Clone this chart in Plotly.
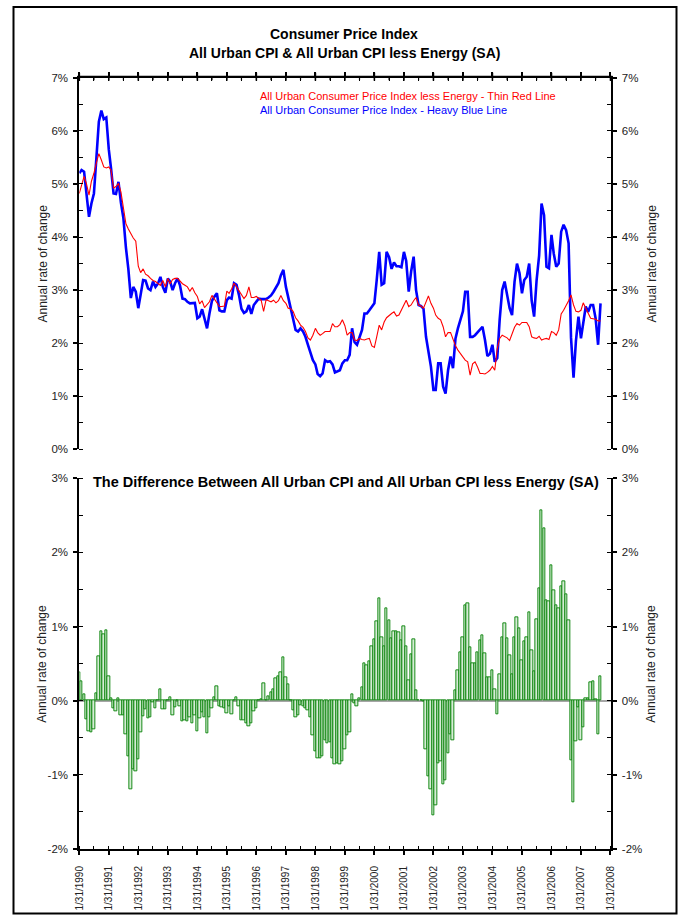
import calendar
import plotly.graph_objects as go

# ---------------- data (annual % change, monthly, Jan 1990 .. Sep 2007) ----------------
cpi_all = [
    5.20, 5.26, 5.23, 4.75, 4.38, 4.63, 4.82, 5.50, 6.17, 6.38, 6.22, 6.25,   # 1990
    5.65, 5.29, 4.82, 4.81, 5.04, 4.65, 4.35, 3.80, 3.40, 2.85, 3.06, 2.97,   # 1991
    2.66, 2.91, 3.19, 3.18, 3.03, 3.00, 3.16, 3.06, 3.12, 3.25, 3.06, 2.95,   # 1992
    3.22, 3.16, 3.00, 3.13, 3.22, 3.09, 2.84, 2.83, 2.78, 2.75, 2.75, 2.76,   # 1993
    2.47, 2.50, 2.64, 2.44, 2.28, 2.56, 2.80, 2.88, 2.94, 2.62, 2.60, 2.60,   # 1994
    2.81, 2.86, 2.84, 3.13, 3.10, 2.91, 2.65, 2.57, 2.60, 2.72, 2.55, 2.72,   # 1995
    2.78, 2.84, 2.83, 2.83, 2.83, 2.86, 2.90, 2.97, 3.06, 3.13, 3.28, 3.38,   # 1996
    3.06, 2.88, 2.66, 2.47, 2.25, 2.22, 2.28, 2.22, 2.12, 1.97, 1.84, 1.68,   # 1997
    1.60, 1.42, 1.38, 1.43, 1.68, 1.65, 1.66, 1.60, 1.45, 1.47, 1.49, 1.62,   # 1998
    1.68, 1.68, 1.78, 2.28, 2.02, 1.97, 2.12, 2.25, 2.56, 2.56, 2.62, 2.69,   # 1999
    2.75, 3.19, 3.72, 3.10, 3.13, 3.72, 3.62, 3.40, 3.52, 3.45, 3.45, 3.43,   # 2000
    3.72, 3.55, 2.97, 3.35, 3.63, 3.00, 2.72, 2.70, 2.65, 2.12, 1.87, 1.56,   # 2001
    1.12, 1.12, 1.62, 1.62, 1.18, 1.05, 1.49, 1.75, 1.53, 2.09, 2.28, 2.45,   # 2002
    2.60, 2.97, 2.97, 2.12, 2.12, 2.15, 2.20, 2.25, 2.31, 2.06, 1.76, 1.80,   # 2003
    1.97, 1.65, 1.72, 2.45, 3.00, 3.16, 2.94, 2.66, 2.53, 3.16, 3.50, 3.32,   # 2004
    2.94, 3.19, 3.25, 3.50, 2.80, 2.50, 3.19, 3.65, 4.63, 4.41, 3.44, 3.41,   # 2005
    4.04, 3.69, 3.44, 3.50, 4.10, 4.23, 4.13, 3.88, 2.10, 1.35, 2.05, 2.50,   # 2006
    2.09, 2.40, 2.69, 2.59, 2.72, 2.72, 2.47, 1.97, 2.75,                     # 2007
]

cpi_less_energy = [
    4.82, 5.00, 5.14, 5.00, 4.79, 5.05, 5.20, 5.40, 5.57, 5.45, 5.32, 5.30,   # 1990
    5.32, 5.26, 4.92, 4.95, 5.01, 4.85, 4.55, 4.25, 4.15, 4.05, 3.98, 3.92,   # 1991
    3.45, 3.33, 3.40, 3.30, 3.27, 3.22, 3.18, 3.16, 3.12, 3.09, 3.18, 3.06,   # 1992
    3.22, 3.12, 3.20, 3.22, 3.22, 3.16, 3.12, 3.09, 3.06, 2.98, 3.05, 2.95,   # 1993
    2.88, 2.74, 2.80, 2.67, 2.72, 2.78, 2.90, 2.83, 2.75, 2.69, 2.69, 2.70,   # 1994
    2.98, 2.94, 3.02, 3.13, 3.06, 2.98, 2.92, 2.84, 2.90, 3.06, 2.86, 2.86,   # 1995
    2.88, 2.84, 2.81, 2.60, 2.82, 2.80, 2.78, 2.81, 2.76, 2.80, 2.90, 2.80,   # 1996
    2.75, 2.66, 2.65, 2.60, 2.48, 2.42, 2.34, 2.30, 2.22, 2.10, 2.06, 2.15,   # 1997
    2.28, 2.20, 2.15, 2.18, 2.22, 2.22, 2.22, 2.37, 2.31, 2.31, 2.35, 2.44,   # 1998
    2.33, 2.15, 2.20, 2.20, 2.06, 2.05, 2.09, 2.07, 2.06, 2.08, 2.09, 1.95,   # 1999
    1.92, 2.12, 2.34, 2.25, 2.40, 2.48, 2.53, 2.56, 2.59, 2.51, 2.53, 2.62,   # 2000
    2.72, 2.81, 2.69, 2.72, 2.80, 2.86, 2.72, 2.70, 2.66, 2.78, 2.89, 2.75,   # 2001
    2.66, 2.53, 2.47, 2.44, 2.31, 2.12, 2.20, 2.20, 2.06, 1.95, 1.87, 1.80,   # 2002
    1.75, 1.68, 1.65, 1.40, 1.61, 1.65, 1.55, 1.43, 1.43, 1.42, 1.45, 1.49,   # 2003
    1.56, 1.49, 1.90, 2.09, 2.15, 2.12, 2.10, 2.05, 2.18, 2.30, 2.37, 2.34,   # 2004
    2.39, 2.39, 2.39, 2.31, 2.12, 2.10, 2.09, 2.13, 2.06, 2.08, 2.09, 2.07,   # 2005
    2.22, 2.20, 2.15, 2.25, 2.55, 2.62, 2.70, 2.80, 2.91, 2.72, 2.60, 2.59,   # 2006
    2.62, 2.76, 2.66, 2.56, 2.47, 2.46, 2.45, 2.42, 2.42,                     # 2007
]

# month-end dates (category axis)
dates = []
for i in range(len(cpi_all)):
    yr, mo = 1990 + i // 12, i % 12 + 1
    dates.append(f"{yr}-{mo:02d}-{calendar.monthrange(yr, mo)[1]:02d}")

# the difference shown in the lower panel (CPI minus CPI less energy)
difference = [round(a - b, 3) for a, b in zip(cpi_all, cpi_less_energy)]

top_tickvals = [0, 1, 2, 3, 4, 5, 6, 7]
top_ticktext = ["0%", "1%", "2%", "3%", "4%", "5%", "6%", "7%"]
bot_tickvals = [-2, -1, 0, 1, 2, 3]
bot_ticktext = ["-2%", "-1%", "0%", "1%", "2%", "3%"]
year_ticks = [f"{y}-01-31" for y in range(1990, 2009)]       # yearly tick dates
half_year_ticks = [f"{y}-07-31" for y in range(1990, 2008)]  # half-year tick dates

title_line1 = "Consumer Price Index"
title_line2 = "All Urban CPI & All Urban CPI less Energy (SA)"
legend_red = "All Urban Consumer Price Index less Energy - Thin Red Line"
legend_blue = "All Urban Consumer Price Index - Heavy Blue Line"
lower_title = "The Difference Between All Urban CPI and All Urban CPI less Energy (SA)"
y_title = "Annual rate of change"

# ---------------- layout geometry ----------------
W, H = 680, 918
FONT = "Liberation Sans, Arial, Helvetica, sans-serif"


def px(xpix):
    return xpix / W


def py(ypix):
    return (H - ypix) / H


XD = [px(79.3), px(610.5)]
YD_TOP = [py(449.4), py(77.7)]
YD_BOT = [py(849.0), py(478.3)]
XR = ["1990-01-31", "2008-01-31 12:00"]

tick_font = dict(family=FONT, size=11.5, color="#222222")


def date_axis(side, anchor, labels=False):
    d = dict(type="date", range=XR, domain=XD, side=side, anchor=anchor, automargin=False,
             showgrid=False, zeroline=False, showline=True, linecolor="black", linewidth=2,
             tick0="1990-01-31", dtick="M12", ticks="outside", ticklen=4, tickwidth=1.6,
             tickcolor="black", showticklabels=labels,
             minor=dict(ticks="inside", ticklen=3.5, tickwidth=1.2, tickcolor="black",
                        tick0="1990-01-31", dtick="M6", showgrid=False))
    if labels:
        d["tickformat"] = "%-m/%-d/%Y"
        d["tickangle"] = -90
        d["ticklabelstandoff"] = 7
        d["tickfont"] = dict(family=FONT, size=10, color="#222222")
    return d


def val_axis(side, anchor, rng, tv, tt, domain=None, overlay=None, zero=False):
    d = dict(range=rng, side=side, anchor=anchor, automargin=False, showgrid=False, zeroline=zero,
             tickmode="array", tickvals=tv, ticktext=tt,
             ticks="outside", ticklen=4, tickwidth=1.6, tickcolor="black", tickfont=tick_font,
             showline=True, linecolor="black", linewidth=2, ticklabelstandoff=3,
             minor=dict(ticks="inside", ticklen=3.5, tickwidth=1.2, tickcolor="black",
                        tickmode="linear", tick0=0, dtick=0.5, showgrid=False))
    if zero:
        d["zerolinecolor"] = "#a6a6a6"
        d["zerolinewidth"] = 2
    if overlay:
        d["overlaying"] = overlay
    else:
        d["domain"] = domain
    return d


fig = go.Figure()

# upper panel
fig.add_trace(go.Scatter(x=dates, y=cpi_all, mode="lines", name=legend_blue,
                         line=dict(color="#0000ff", width=2.6), xaxis="x", yaxis="y"))
fig.add_trace(go.Scatter(x=dates, y=cpi_less_energy, mode="lines", name=legend_red,
                         line=dict(color="#ff0000", width=1.1), xaxis="x", yaxis="y2"))
# lower panel
fig.add_trace(go.Bar(x=dates, y=difference, name="Difference", xaxis="x2", yaxis="y3",
                     width=30 * 86400000,
                     marker=dict(color="#d6ecd6", line=dict(color="#008000", width=0.9))))
# same series registered on the right-hand scale (draws nothing, only carries the right axis)
fig.add_trace(go.Scatter(x=dates, y=difference, mode="none", name="Difference (right scale)",
                         hoverinfo="skip", xaxis="x2", yaxis="y4"))

fig.update_layout(
    template="none",
    width=W, height=H, autosize=False,
    margin=dict(l=0, r=0, t=0, b=0, pad=0, autoexpand=False),
    paper_bgcolor="white", plot_bgcolor="white",
    showlegend=False, bargap=0,
    font=dict(family=FONT, size=11, color="#222222"),
    xaxis=date_axis("top", "y"),
    xaxis2=date_axis("bottom", "y3", labels=True),
    yaxis=val_axis("left", "x", [0, 7], top_tickvals, top_ticktext, domain=YD_TOP),
    yaxis2=val_axis("right", "x", [0, 7], top_tickvals, top_ticktext, overlay="y"),
    yaxis3=val_axis("left", "x2", [-2, 3], bot_tickvals, bot_ticktext, domain=YD_BOT, zero=True),
    yaxis4=val_axis("right", "x2", [-2, 3], bot_tickvals, bot_ticktext, overlay="y3"),
)

bold = dict(family=FONT, size=14, color="black")
ann = [
    dict(text=f"<b>{title_line1}</b>", x=px(344), y=py(34.3), xanchor="center", yanchor="middle", font=bold),
    dict(text=f"<b>{title_line2}</b>", x=px(344), y=py(53.3), xanchor="center", yanchor="middle", font=bold),
    dict(text=legend_red, x=px(258), y=py(95.7), xanchor="left", yanchor="middle",
         font=dict(family=FONT, size=11, color="#ff0000")),
    dict(text=legend_blue, x=px(258), y=py(110.3), xanchor="left", yanchor="middle",
         font=dict(family=FONT, size=11, color="#0000ff")),
    dict(text=f"<b>{lower_title}</b>", x=px(90.7), y=py(482), xanchor="left", yanchor="middle",
         font=dict(family=FONT, size=14.5, color="black")),
]
for xc, yc in [(42, 263.5), (651, 263.5), (42, 663.7), (651, 663.7)]:
    ann.append(dict(text=y_title, x=px(xc), y=py(yc), xanchor="center", yanchor="middle",
                    textangle=-90, font=dict(family=FONT, size=12, color="#222222")))
for a in ann:
    a.update(xref="paper", yref="paper", showarrow=False)
fig.update_layout(annotations=ann)

# top edge of the upper plot with its date ticks (placed through the date axis scale)
fig.add_shape(type="line", xref="paper", yref="paper", x0=px(77.3), x1=px(612.5),
              y0=py(76.7), y1=py(76.7), line=dict(color="black", width=2), layer="above")
for d in year_ticks:
    fig.add_shape(type="line", xref="x", yref="paper", x0=d, x1=d, y0=py(80.7), y1=py(72.7),
                  line=dict(color="black", width=1.6), layer="above")
for d in half_year_ticks:
    fig.add_shape(type="line", xref="x", yref="paper", x0=d, x1=d, y0=py(80.2), y1=py(76.7),
                  line=dict(color="black", width=1.2), layer="above")

# outer frame of the picture
fig.add_shape(type="rect", xref="paper", yref="paper", x0=px(13.5), x1=px(676.5),
              y0=py(913.5), y1=py(7), line=dict(color="black", width=2), layer="above")

fig.write_html("out.html", config={"displayModeBar": False},
               post_script="document.body.style.margin='0px';document.body.style.overflow='hidden';")
